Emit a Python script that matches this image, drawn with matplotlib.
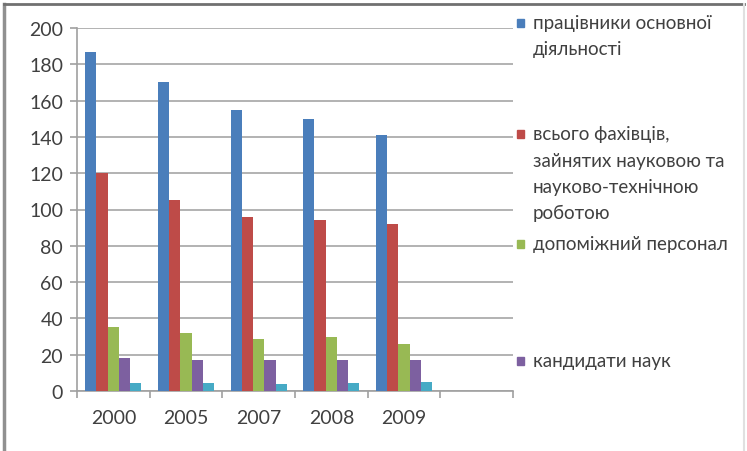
import numpy as np
import matplotlib.pyplot as plt
from matplotlib.patches import Rectangle
from matplotlib.lines import Line2D

plt.rcParams['font.family'] = ['Lato', 'DejaVu Sans']

# дані
years = ['2000', '2005', '2007', '2008', '2009', '']
pratsivnyky = [187, 170, 155, 150, 141]
fakhivtsi = [120, 105, 96, 94, 92]
dopomizhni = [35, 32, 28.5, 30, 26]
kandydaty = [18, 17, 17, 17, 17]
doktory = [4.5, 4.5, 4, 4.5, 5]

series = [pratsivnyky, fakhivtsi, dopomizhni, kandydaty, doktory]
colors = ['#4a7ebb', '#be4b48', '#98b954', '#7d60a0', '#46aac5']
labels = ['працівники основної\nдіяльності',
          'всього фахівців,\nзайнятих науковою та\nнауково-технічною\nроботою',
          'допоміжний персонал',
          'кандидати наук']

fig = plt.figure(figsize=(7.47, 4.52), dpi=100)
W, H = 747, 452
ax = fig.add_axes([77 / W, (H - 392) / H, (513 - 77) / W, (392 - 29) / H])

x = np.arange(len(pratsivnyky))
w = 0.155
for i, (vals, c) in enumerate(zip(series, colors)):
    ax.bar(x + (i - 2) * w, vals, w, color=c, zorder=3)

ax.set_xlim(-0.5, len(years) - 0.5)
ax.set_ylim(0, 200)
ax.set_yticks(range(0, 201, 20))
ax.set_xticks(range(len(years)))
ax.set_xticklabels(years)
ax.set_xticks(np.arange(-0.5, len(years), 1), minor=True)
ax.yaxis.grid(True, color='#a6a6a6', linewidth=1.2, zorder=0)

for s in ['top', 'right']:
    ax.spines[s].set_visible(False)
for s in ['left', 'bottom']:
    ax.spines[s].set_color('#a0a0a0')
    ax.spines[s].set_linewidth(1.2)

ax.tick_params(axis='y', labelsize=14, colors='#a0a0a0', labelcolor='#404040',
               length=5, width=1.2, pad=5)
ax.tick_params(axis='x', which='major', length=0, labelsize=14,
               labelcolor='#404040', pad=13)
ax.tick_params(axis='x', which='minor', length=5, width=1.2, colors='#a0a0a0')

# легенда праворуч
legend_y = [24, 135, 245, 362]
line_step = 26
for lab, c, y0 in zip(labels, colors, legend_y):
    fig.patches.append(Rectangle((517 / W, (H - y0 - 4) / H), 7 / W, 8 / H,
                                 transform=fig.transFigure, color=c))
    for k, line in enumerate(lab.split('\n')):
        fig.text(533 / W, (H - y0 - k * line_step) / H, line, fontsize=13.5,
                 color='#404040', va='center', ha='left')

# рамка
fig.add_artist(Line2D([4 / W, 4 / W], [0, (H - 5) / H], color='#909090', lw=2.5))
fig.add_artist(Line2D([4 / W, 744 / W], [(H - 5) / H, (H - 5) / H], color='#707070', lw=2))
fig.add_artist(Line2D([744 / W, 744 / W], [0, (H - 5) / H], color='#e0e0e0', lw=1.5))

fig.savefig('out.png', dpi=100)
